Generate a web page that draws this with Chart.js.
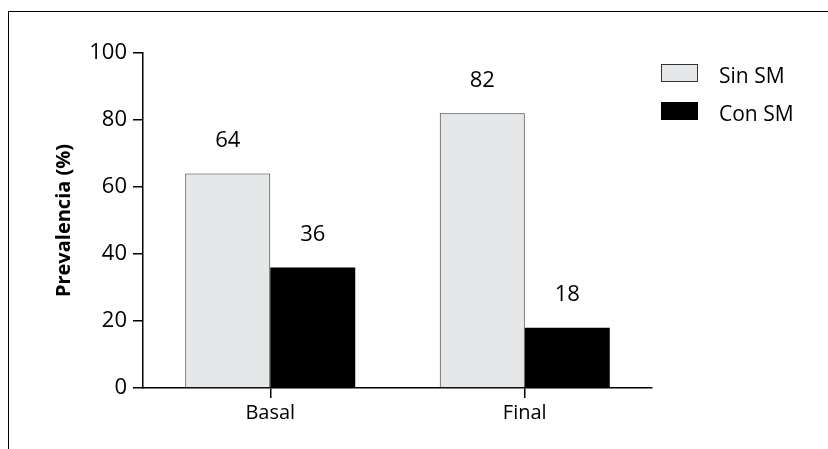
<!DOCTYPE html>
<html>
<head>
<meta charset="utf-8">
<script src="https://cdn.jsdelivr.net/npm/chart.js@4"></script>
<style>
  html, body { margin: 0; padding: 0; background: #fff; }
  #wrap { position: relative; width: 828px; height: 449px; overflow: hidden; }
  /* marco del gráfico: solo arriba e izquierda */
  #frame { position: absolute; left: 8px; top: 11px; width: 900px; height: 500px;
           border-top: 1.5px solid #000; border-left: 1.5px solid #000; }
  canvas { position: absolute; left: 0; top: 0; }
</style>
</head>
<body>
<div id="wrap">
  <div id="frame"></div>
  <canvas id="prevChart" width="828" height="449"></canvas>
</div>
<script>
// datos
const categorias = ["Basal", "Final"];
const sinSM = [64, 82];
const conSM = [36, 18];
const yTicks = [0, 20, 40, 60, 80, 100];

const fuente = "'Open Sans', Lato, sans-serif";

// etiquetas de valor encima de cada barra
const valueLabels = {
  id: "valueLabels",
  afterDatasetsDraw(chart) {
    const ctx = chart.ctx;
    ctx.save();
    ctx.font = "22px " + fuente;
    ctx.fillStyle = "#000";
    ctx.textAlign = "center";
    ctx.textBaseline = "middle";
    chart.data.datasets.forEach((ds, i) => {
      chart.getDatasetMeta(i).data.forEach((bar, j) => {
        ctx.fillText(ds.data[j], bar.x, bar.y - 33);
      });
    });
    ctx.restore();
  },
};

// leyenda a la derecha
const sideLegend = {
  id: "sideLegend",
  afterDraw(chart) {
    const ctx = chart.ctx;
    ctx.save();
    ctx.font = "21px " + fuente;
    ctx.textBaseline = "middle";
    chart.data.datasets.forEach((ds, i) => {
      const y = 64 + i * 38;
      ctx.fillStyle = ds.backgroundColor;
      ctx.fillRect(661, y, 37, 18);
      ctx.strokeStyle = ds.borderColor;
      ctx.lineWidth = 1;
      ctx.strokeRect(661.5, y + 0.5, 36, 17);
      ctx.fillStyle = "#000";
      ctx.fillText(ds.label, 719, y + 13);
    });
    ctx.restore();
  },
};

new Chart(document.getElementById("prevChart"), {
  type: "bar",
  data: {
    labels: categorias,
    datasets: [
      {
        label: "Sin SM",
        data: sinSM,
        backgroundColor: "#e6e7e9",
        borderColor: "#333",
        borderWidth: 1,
      },
      {
        label: "Con SM",
        data: conSM,
        backgroundColor: "#000",
        borderColor: "#000",
        borderWidth: 0,
      },
    ],
  },
  options: {
    responsive: false,
    animation: false,
    datasets: {
      bar: { categoryPercentage: 0.668, barPercentage: 1 },
    },
    layout: { padding: { left: 0, right: 176, top: 53, bottom: 0 } },
    plugins: {
      legend: { display: false },
      tooltip: { enabled: false },
    },
    scales: {
      x: {
        grid: {
          offset: false,
          drawOnChartArea: false,
          drawTicks: true,
          tickLength: 10,
          color: "#000",
          lineWidth: 1.5,
        },
        border: { display: true, color: "#000", width: 1.5 },
        ticks: { color: "#000", padding: 3, font: { family: fuente, size: 20 } },
        afterFit: (s) => { s.height = 61; },
      },
      y: {
        min: 0,
        max: 100,
        afterBuildTicks: (s) => { s.ticks = yTicks.map((v) => ({ value: v })); },
        grid: {
          drawOnChartArea: false,
          drawTicks: true,
          tickLength: 10,
          color: "#000",
          lineWidth: 1.5,
        },
        border: { display: true, color: "#000", width: 1.5 },
        ticks: { color: "#000", padding: 6, font: { family: fuente, size: 22 } },
        title: {
          display: true,
          text: "Prevalencia (%)",
          color: "#000",
          font: { family: fuente, size: 20, weight: "bold" },
          padding: { top: 52, bottom: 0 },
        },
        afterFit: (s) => { s.width = 143; },
      },
    },
  },
  plugins: [valueLabels, sideLegend],
});
</script>
</body>
</html>
